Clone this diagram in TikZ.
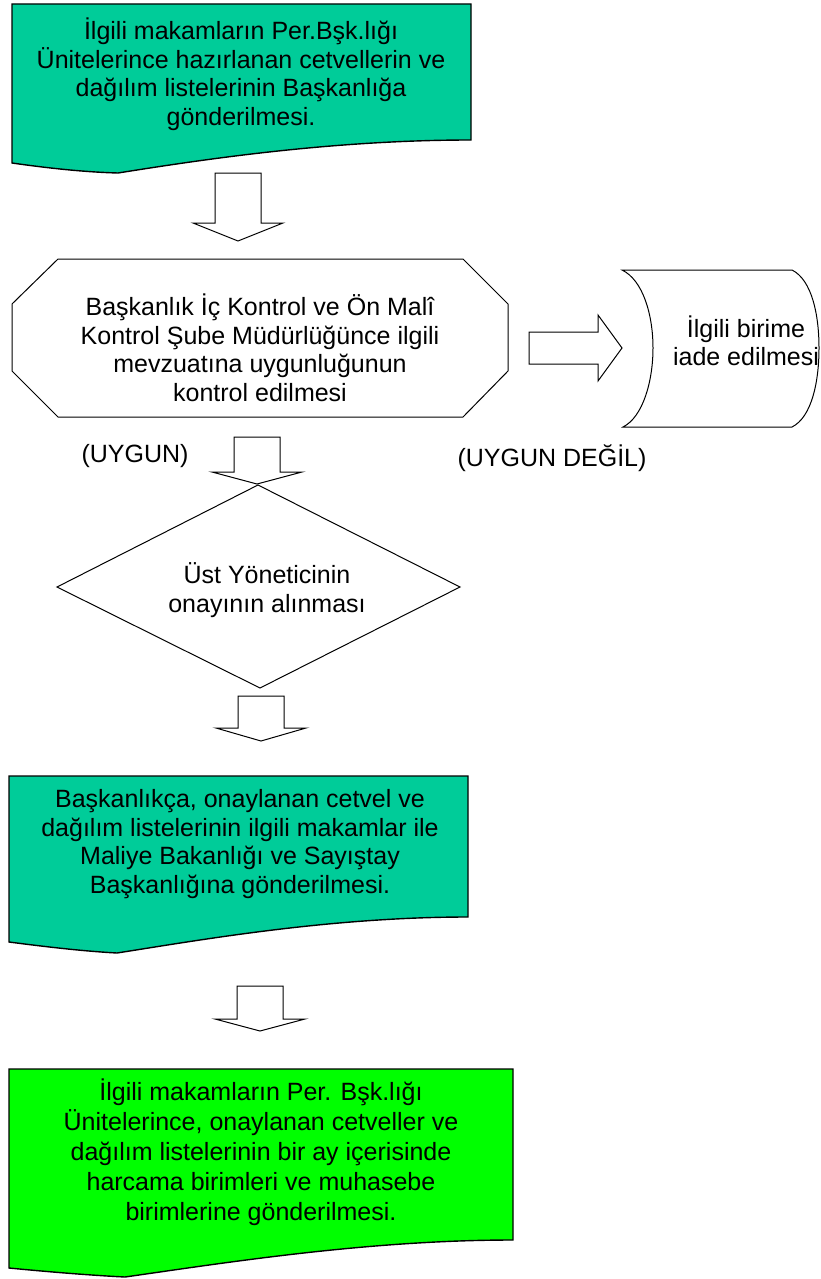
\documentclass[tikz,border=0pt]{standalone}
\usepackage{fontspec}
\setmainfont{Liberation Sans}
\usepackage{tikz}
\usetikzlibrary{positioning}
\definecolor{tealgreen}{RGB}{0,204,153}
\definecolor{limegreen}{RGB}{0,255,0}

\tikzset{
    box/.style={draw=black,line width=1pt,line join=miter},
    docbox/.style={box,line width=1.4pt},
    txt/.style={align=center,inner sep=0pt,font=\fontsize{25}{28.5}\selectfont},
    pics/downarr/.style 2 args={code={
        \draw[box] (-23,0) -- (23,0) -- (23,#1) -- (45,#1) -- (0,#1+#2) -- (-45,#1) -- (-23,#1) -- cycle;
    }}
}

\begin{document}
\begin{tikzpicture}[x=1pt,y=-1pt]
    \useasboundingbox (0,0) rectangle (821,1279);

    % first document
    \draw[docbox,fill=tealgreen] (12,4) -- (471,4) -- (471,140) .. controls (330,140) and (200,160) .. (118,173) .. controls (80,172) and (40,167) .. (12,163) -- cycle;
    \node[txt] (doc1) at (241,74) {İlgili makamların Per.Bşk.lığı\\Ünitelerince hazırlanan cetvellerin ve\\dağılım listelerinin Başkanlığa\\gönderilmesi.};
    \pic at (238,173) {downarr={50}{18}};

    % control step
    \draw[box] (58,259) -- (463,259) -- (508,304) -- (508,371) -- (463,417) -- (58,417) -- (12,371) -- (12,304) -- cycle;
    \node[txt] (kontrol) at (260,348) {Başkanlık İç Kontrol ve Ön Malî\\Kontrol Şube Müdürlüğünce ilgili\\mevzuatına uygunluğunun\\kontrol edilmesi};
    \draw[box] (529,332) -- (598,332) -- (598,315) -- (622,348) -- (598,381) -- (598,364) -- (529,364) -- cycle;

    % return
    \draw[box] (622,270) -- (792,270) .. controls (812,280) and (819,315) .. (819,348) .. controls (819,381) and (812,417) .. (792,427) -- (623,427) .. controls (643,417) and (653,381) .. (653,348) .. controls (653,315) and (643,280) .. (622,270) -- cycle;
    \node[txt] (iade) at (746,341) {İlgili birime\\iade edilmesi};

    \node[txt] (uygun) at (135,456) {(UYGUN)};
    \node[txt] (uygundegil) at (552,458) {(UYGUN DEĞİL)};
    \pic at (257,437) {downarr={35}{12}};

    % approval
    \draw[box] (258,485) -- (460,587) -- (260,688) -- (57,587) -- cycle;
    \node[txt] (onay) at (267,590) {Üst Yöneticinin\\onayının alınması};
    \pic at (261,696) {downarr={32}{13}};

    % second document
    \draw[docbox,fill=tealgreen] (9,776) -- (468,776) -- (468,917) .. controls (330,917) and (200,940) .. (117,953) .. controls (80,951) and (40,946) .. (9,942) -- cycle;
    \node[txt] (doc2) at (240,844) {Başkanlıkça, onaylanan cetvel ve\\dağılım listelerinin ilgili makamlar ile\\Maliye Bakanlığı ve Sayıştay\\Başkanlığına gönderilmesi.};
    \pic at (260,986) {downarr={33}{12}};

    % last document
    \draw[docbox,fill=limegreen] (9,1069) -- (513,1069) -- (513,1240) .. controls (370,1240) and (230,1262) .. (125,1277) .. controls (85,1275) and (40,1271) .. (9,1268) -- cycle;
    \node[txt,font=\fontsize{25}{30}\selectfont] (doc3) at (261,1152) {İlgili makamların Per. Bşk.lığı\\Ünitelerince, onaylanan cetveller ve\\dağılım listelerinin bir ay içerisinde\\harcama birimleri ve muhasebe\\birimlerine gönderilmesi.};
\end{tikzpicture}
\end{document}
